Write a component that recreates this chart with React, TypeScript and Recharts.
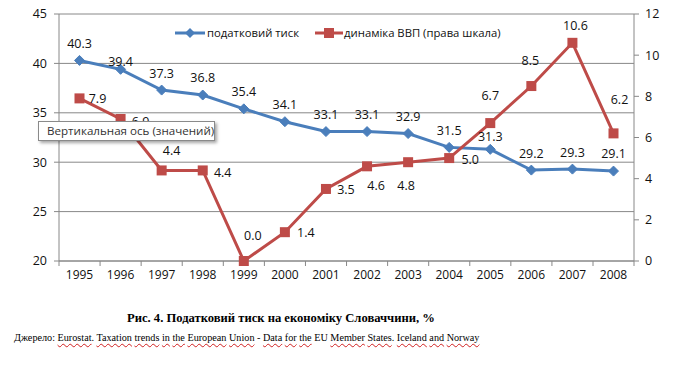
import React from 'react';
import {
  ComposedChart,
  Line,
  XAxis,
  YAxis,
  CartesianGrid,
  LabelList,
} from 'recharts';

// Data
const years = ['1995', '1996', '1997', '1998', '1999', '2000', '2001', '2002', '2003', '2004', '2005', '2006', '2007', '2008'];
const taxPressure = [40.3, 39.4, 37.3, 36.8, 35.4, 34.1, 33.1, 33.1, 32.9, 31.5, 31.3, 29.2, 29.3, 29.1];
const gdpDynamics = [7.9, 6.9, 4.4, 4.4, 0.0, 1.4, 3.5, 4.6, 4.8, 5.0, 6.7, 8.5, 10.6, 6.2];
const leftTicks = [20, 25, 30, 35, 40, 45];
const rightTicks = [0, 2, 4, 6, 8, 10, 12];

const BLUE = '#4A7EBB';
const RED = '#BE4B48';
const GRID = '#888888';
const FONT = '"Open Sans", "Noto Sans", sans-serif';

// label placement (dx, dy) relative to the point, like the hand-placed Excel labels
const blueLabelOffset = [-17, -8, -17, -18, -17, -17, -17, -17, -17, -17, -13, -17, -17, -18];
const redLabelOffset: [number, number][] = [
  [18, 0], [20, 3], [10, -20], [20, 2], [9, -26], [21, 0], [20, 1],
  [9, 19], [-2, 23], [21, 1], [0, -28], [-1, -26], [3, -17], [6, -34],
];

const data = years.map((y, i) => ({ year: y, tax: taxPressure[i], gdp: gdpDynamics[i] }));

const Diamond = (props: any) => {
  const { cx, cy } = props;
  if (cx == null || cy == null) return null;
  const r = 5;
  return (
    <path
      d={`M${cx},${cy - r}L${cx + r},${cy}L${cx},${cy + r}L${cx - r},${cy}Z`}
      fill={BLUE}
      stroke={BLUE}
    />
  );
};

const Square = (props: any) => {
  const { cx, cy } = props;
  if (cx == null || cy == null) return null;
  return <rect x={cx - 5} y={cy - 5} width={10} height={10} fill={RED} />;
};

const BlueLabel = (props: any) => {
  const { x, y, value, index } = props;
  return (
    <text x={x} y={y + blueLabelOffset[index]} textAnchor="middle" dominantBaseline="central" fontSize={12.5} fontFamily={FONT} fill="#111">
      {Number(value).toFixed(1)}
    </text>
  );
};

const RedLabel = (props: any) => {
  const { x, y, value, index } = props;
  const [dx, dy] = redLabelOffset[index];
  return (
    <text x={x + dx} y={y + dy} textAnchor="middle" dominantBaseline="central" fontSize={12.5} fontFamily={FONT} fill="#111">
      {Number(value).toFixed(1)}
    </text>
  );
};

// Excel style: tick marks between the categories
const YearTick = (props: any) => {
  const { x, y, payload, index } = props;
  const half = 20.5;
  return (
    <g>
      <line x1={x - half} x2={x - half} y1={y - 8} y2={y - 3} stroke={GRID} />
      {index === years.length - 1 && (
        <line x1={x + half} x2={x + half} y1={y - 8} y2={y - 3} stroke={GRID} />
      )}
      <text x={x} y={y + 10} textAnchor="middle" fontSize={12} fontFamily={FONT} fill="#111">
        {payload.value}
      </text>
    </g>
  );
};

function LegendBox() {
  return (
    <div
      style={{
        position: 'absolute',
        left: 175,
        top: 25,
        display: 'flex',
        alignItems: 'center',
        fontFamily: FONT,
        fontSize: 11.3,
        color: '#111',
        whiteSpace: 'nowrap',
      }}
    >
      <svg width={30} height={12}>
        <line x1={0} x2={30} y1={6} y2={6} stroke={BLUE} strokeWidth={3} />
        <path d="M15,1L20,6L15,11L10,6Z" fill={BLUE} />
      </svg>
      <span style={{ marginLeft: 2, marginRight: 16 }}>податковий тиск</span>
      <svg width={28} height={12}>
        <line x1={0} x2={28} y1={6} y2={6} stroke={RED} strokeWidth={3} />
        <rect x={9} y={1} width={10} height={10} fill={RED} />
      </svg>
      <span style={{ marginLeft: 1 }}>динаміка ВВП (права шкала)</span>
    </div>
  );
}

const squiggle: React.CSSProperties = {
  textDecoration: 'underline wavy #d02020',
  textDecorationThickness: 1,
  textUnderlineOffset: 2,
};

export default function App() {
  return (
    <div style={{ position: 'absolute', left: 0, top: 0, width: 691, height: 368, background: '#fff' }}>
      <ComposedChart
        width={691}
        height={300}
        data={data}
        margin={{ top: 14, right: 0, bottom: 0, left: 0 }}
      >
        <CartesianGrid vertical={false} stroke={GRID} yAxisId="left" />
        <XAxis
          dataKey="year"
          height={39}
          padding={{ left: 20.5, right: 20.5 }}
          axisLine={{ stroke: GRID }}
          tickLine={false}
          tick={<YearTick />}
          interval={0}
        />
        <YAxis
          yAxisId="left"
          width={59}
          domain={[20, 45]}
          ticks={leftTicks}
          axisLine={{ stroke: GRID }}
          tickLine={{ stroke: GRID }}
          tickSize={5}
          tick={{ fontSize: 12.5, fontFamily: FONT, fill: '#111' }}
          tickMargin={7}
        />
        <YAxis
          yAxisId="right"
          orientation="right"
          width={57}
          domain={[0, 12]}
          ticks={rightTicks}
          axisLine={{ stroke: GRID }}
          tickLine={{ stroke: GRID }}
          tickSize={5}
          tick={{ fontSize: 12.5, fontFamily: FONT, fill: '#111', textAnchor: 'start' }}
          tickMargin={6}
        />
        <Line
          yAxisId="left"
          dataKey="tax"
          stroke={BLUE}
          strokeWidth={3}
          dot={<Diamond />}
          isAnimationActive={false}
        >
          <LabelList dataKey="tax" content={<BlueLabel />} />
        </Line>
        <Line
          yAxisId="right"
          dataKey="gdp"
          stroke={RED}
          strokeWidth={3}
          dot={<Square />}
          isAnimationActive={false}
        >
          <LabelList dataKey="gdp" content={<RedLabel />} />
        </Line>
      </ComposedChart>
      <LegendBox />
      <div
        style={{
          position: 'absolute',
          left: 38,
          top: 121,
          width: 177,
          height: 20,
          border: '1px solid #8a8a8a',
          background: '#fff',
          boxShadow: '2px 2px 3px rgba(0,0,0,0.35)',
          fontFamily: FONT,
          fontSize: 11.6,
          lineHeight: '18px',
          color: '#333',
          paddingLeft: 8,
          boxSizing: 'border-box',
          whiteSpace: 'nowrap',
        }}
      >
        Вертикальная ось (значений)
      </div>
      <div
        style={{
          position: 'absolute',
          left: 127,
          top: 311,
          fontFamily: '"Liberation Serif", serif',
          fontWeight: 'bold',
          fontSize: 12.6,
          color: '#000',
          whiteSpace: 'nowrap',
        }}
      >
        Рис. 4. Податковий тиск на економіку Словаччини, %
      </div>
      <div
        style={{
          position: 'absolute',
          left: 14,
          top: 332,
          fontFamily: '"Liberation Serif", serif',
          fontSize: 10.2,
          color: '#000',
          whiteSpace: 'nowrap',
        }}
      >
        Джерело: <span style={squiggle}>Eurostat</span>. <span style={squiggle}>Taxation</span>{' '}
        <span style={squiggle}>trends</span> <span style={squiggle}>in</span>{' '}
        <span style={squiggle}>the</span> <span style={squiggle}>European</span>{' '}
        <span style={squiggle}>Union</span> - <span style={squiggle}>Data</span>{' '}
        <span style={squiggle}>for</span> <span style={squiggle}>the</span> EU{' '}
        <span style={squiggle}>Member</span> <span style={squiggle}>States</span>.{' '}
        <span style={squiggle}>Iceland</span> <span style={squiggle}>and</span>{' '}
        <span style={squiggle}>Norway</span>
      </div>
    </div>
  );
}
